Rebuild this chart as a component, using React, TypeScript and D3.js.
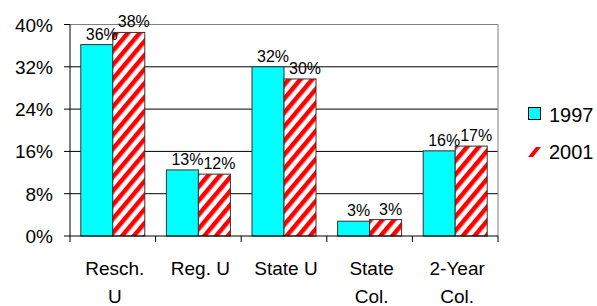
import React from 'react';
import * as d3 from 'd3';

const categories = [['Resch.', 'U'], ['Reg. U'], ['State U'], ['State', 'Col.'], ['2-Year', 'Col.']];
const series = ['1997', '2001'];
const values1997 = [36.2, 12.5, 32.0, 2.8, 16.1];
const values2001 = [38.5, 11.7, 29.7, 3.1, 17.0];
const labels1997 = ['36%', '13%', '32%', '3%', '16%'];
const labels2001 = ['38%', '12%', '30%', '3%', '17%'];
const yTicks = [0, 8, 16, 24, 32, 40];

const font = "Arial, 'Liberation Sans', sans-serif";

export default function App() {
  const W = 597, H = 306;
  const left = 70, right = 498, top = 24.5, bottom = 236;

  const y = d3.scaleLinear().domain([0, 40]).range([bottom, top]);
  const x0 = d3.scaleBand<number>().domain(d3.range(categories.length)).range([left, right]);
  const x1 = d3.scaleBand<string>().domain(series).range([0, x0.bandwidth()]).paddingOuter(0.3375);

  const data = [values1997, values2001];
  const labels = [labels1997, labels2001];
  const fills = ['#00FFFF', 'url(#stripes)'];

  return (
    <svg width={W} height={H} style={{ position: 'absolute', left: 0, top: 0 }} fontFamily={font}>
      <defs>
        <pattern id="stripes" width={9} height={9} patternUnits="userSpaceOnUse" patternTransform="rotate(40)">
          <rect width={9} height={9} fill="#fff" />
          <rect width={4.5} height={9} fill="#FF0000" />
        </pattern>
      </defs>
      {/* grid */}
      {yTicks.filter(t => t > 0 && t < 40).map(t => (
        <line key={t} x1={left} x2={right} y1={y(t)} y2={y(t)} stroke="#000" strokeWidth={1} />
      ))}
      <line x1={left} x2={right} y1={top} y2={top} stroke="#808080" />
      <line x1={right} x2={right} y1={top} y2={bottom} stroke="#808080" />
      {/* bars */}
      {series.map((s, si) =>
        data[si].map((v, i) => (
          <rect key={s + i}
            x={(x0(i) as number) + (x1(s) as number)}
            y={y(v)}
            width={x1.bandwidth()}
            height={bottom - y(v)}
            fill={fills[si]}
            stroke="#333"
            strokeWidth={1} />
        ))
      )}
      {/* axes */}
      <line x1={left} x2={left} y1={top} y2={bottom} stroke="#000" />
      <line x1={left} x2={right} y1={bottom} y2={bottom} stroke="#000" />
      {yTicks.map(t => (
        <g key={t}>
          <line x1={left - 6} x2={left} y1={y(t)} y2={y(t)} stroke="#000" />
          <text x={53} y={y(t) + 7} textAnchor="end" fontSize={19}>{t}%</text>
        </g>
      ))}
      {d3.range(categories.length + 1).map(i => {
        const xx = left + i * x0.step();
        return <line key={i} x1={xx} x2={xx} y1={bottom} y2={bottom + 6} stroke="#000" />;
      })}
      {categories.map((c, i) => (
        <text key={i} textAnchor="middle" fontSize={19}>
          {c.map((ln, li) => (
            <tspan key={li} x={(x0(i) as number) + x0.bandwidth() / 2 + 2} y={275 + li * 28}>{ln}</tspan>
          ))}
        </text>
      ))}
      {/* value labels */}
      {series.map((s, si) =>
        data[si].map((v, i) => (
          <text key={'l' + s + i}
            x={(x0(i) as number) + (x1(s) as number) + x1.bandwidth() / 2 + 5}
            y={y(v) - 5}
            textAnchor="middle"
            fontSize={16}>{labels[si][i]}</text>
        ))
      )}
      {/* legend */}
      <rect x={528.5} y={107.5} width={12} height={12} fill="#00FFFF" stroke="#000" />
      <text x={549} y={122} fontSize={20}>1997</text>
      <polygon points="528,157 533,157 541,147 536,147" fill="#FF0000" />
      <text x={549} y={159} fontSize={20}>2001</text>
    </svg>
  );
}
